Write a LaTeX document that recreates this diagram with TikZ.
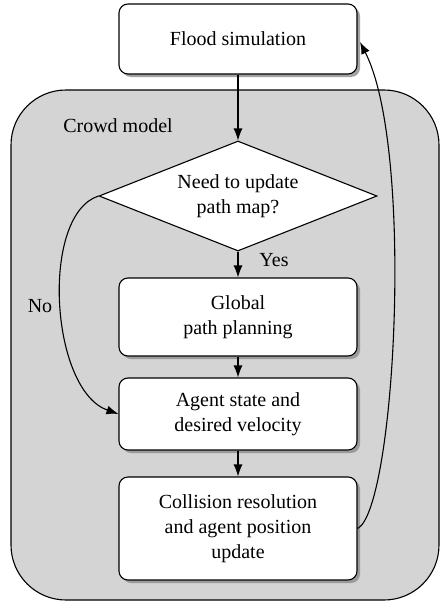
\documentclass[tikz,border=0pt]{standalone}
\usepackage{fontspec}
\setmainfont{Liberation Serif}
\usetikzlibrary{shapes.geometric,arrows.meta,shadows}
\begin{document}
\begin{tikzpicture}[x=1pt,y=-1pt,
  every node/.style={font=\fontsize{20}{25}\selectfont},
  proc/.style={draw, line width=1.1pt, rounded corners=9pt, fill=white,
    minimum width=238pt, align=center,
    drop shadow={shadow xshift=3pt, shadow yshift=-3pt, fill=black!45, opacity=0.8}},
  decide/.style={draw, line width=1.1pt, diamond, aspect=2.53, fill=white,
    minimum width=278pt, minimum height=110pt, inner sep=0pt, align=center},
  flow/.style={line width=1.1pt, -{Latex[length=12pt,width=9pt]}}]
\useasboundingbox (0,0) rectangle (440,610);

% crowd model container
\draw[line width=1.1pt, fill=black!17, rounded corners=55pt] (11,90) rectangle (439,600);
\node (crowd) at (118,126) {Crowd model};

% process steps
\node[proc, minimum height=70pt] (flood) at (238,39) {Flood simulation};
\node[decide] (need) at (238,196) {Need to update\\path map?};
\node[proc, minimum height=78pt] (global) at (238,317) {Global\\path planning};
\node[proc, minimum height=72pt] (agent) at (238,414) {Agent state and\\desired velocity};
\node[proc, minimum height=103pt] (coll) at (238,528.5) {Collision resolution\\and agent position\\update};

% connectors
\draw[flow] (flood) -- (need.north);
\draw[flow] (need.south) -- (global);
\node (yes) at (274,260) {Yes};
\draw[flow] (global) -- (agent);
\draw[flow] (agent) -- (coll);
\draw[flow] (need.west) .. controls (40,215) and (50,390) .. (agent.west);
\node (no) at (40,306) {No};
\coordinate (back) at (360,42);
\draw[flow] (coll.east) .. controls (395,510) and (415,150) .. (back);
\end{tikzpicture}
\end{document}
